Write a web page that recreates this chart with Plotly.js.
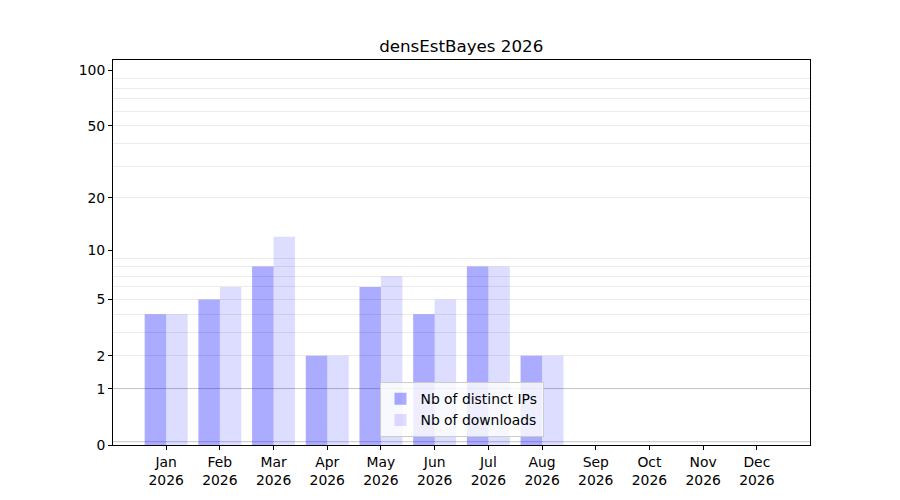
<!DOCTYPE html>
<html>
<head>
<meta charset="utf-8">
<script src="https://cdn.plot.ly/plotly-3.0.1.min.js"></script>
<style>html,body{margin:0;padding:0;background:#fff;}#chart{width:900px;height:500px;}</style>
</head>
<body>
<div id="chart"></div>
<script>
var months = ["Jan<br>2026","Feb<br>2026","Mar<br>2026","Apr<br>2026","May<br>2026","Jun<br>2026","Jul<br>2026","Aug<br>2026","Sep<br>2026","Oct<br>2026","Nov<br>2026","Dec<br>2026"];
var distinctIPs = [4, 5, 8, 2, 6, 4, 8, 2, 0, 0, 0, 0];
var downloads   = [4, 6, 12, 2, 7, 5, 8, 2, 0, 0, 0, 0];
var yTickLabels = [0, 1, 2, 5, 10, 20, 50, 100];
var minorGrid = [2,3,4,5,6,7,8,9,20,30,40,50,60,70,80,90];
var majorGrid = [1, 10, 100];

// symmetric-log style axis: value v is drawn at log10(1+v) (bars based at 1 on a log axis)
var idx = months.map(function(_, i){ return i; });
var traces = [
  {type:'bar', name:'Nb of distinct IPs', x: idx, y: distinctIPs, base: 1,
   marker:{color:'rgba(0,0,255,0.33)'}, hoverinfo:'skip'},
  {type:'bar', name:'Nb of downloads', x: idx, y: downloads, base: 1,
   marker:{color:'rgba(0,0,255,0.135)'}, hoverinfo:'skip'}
];
var shapes = majorGrid.map(function(v){
  return {type:'line', xref:'paper', x0:0, x1:1, yref:'y', y0:Math.log10(1+v), y1:Math.log10(1+v),
          line:{color:'#c4c4c4', width:1}, layer:'below'};
});
var layout = {
  width:900, height:500,
  margin:{l:113, r:90, t:60, b:55, pad:0},
  paper_bgcolor:'#fff', plot_bgcolor:'#fff',
  font:{family:'DejaVu Sans', size:13.9, color:'#000'},
  title:{text:'densEstBayes 2026', font:{family:'DejaVu Sans', size:16.7, color:'#000'}, x:0.5125, xanchor:'center', y:0.908, yanchor:'middle'},
  barmode:'group', bargap:0.2, bargroupgap:0,
  showlegend:true,
  legend:{x:0.5, xanchor:'center', y:0.02, yanchor:'bottom', bgcolor:'rgba(255,255,255,0.8)',
          bordercolor:'#cccccc', borderwidth:1, font:{family:'DejaVu Sans', size:13.9}, traceorder:'normal',
          tracegroupgap:0},
  xaxis:{tickmode:'array', tickvals: idx, ticktext: months, range:[-0.99, 11.99],
         showline:true, mirror:true, linecolor:'#000', linewidth:1, ticks:'outside', ticklen:4, tickcolor:'#000',
         showgrid:false, zeroline:false, fixedrange:true},
  yaxis:{type:'log', range:[0, 2.059], tickmode:'array',
         tickvals: yTickLabels.map(function(t){ return 1+t; }),
         ticktext: yTickLabels.map(String),
         showline:true, mirror:true, linecolor:'#000', linewidth:1, ticks:'outside', ticklen:4, tickcolor:'#000',
         showgrid:false, zeroline:false,
         minor:{tickmode:'array', tickvals: minorGrid.map(function(t){ return 1+t; }), showgrid:true, gridcolor:'#ebebeb', gridwidth:1, ticks:''}},
  shapes: shapes
};
Plotly.newPlot('chart', traces, layout, {staticPlot:true});
</script>
</body>
</html>
